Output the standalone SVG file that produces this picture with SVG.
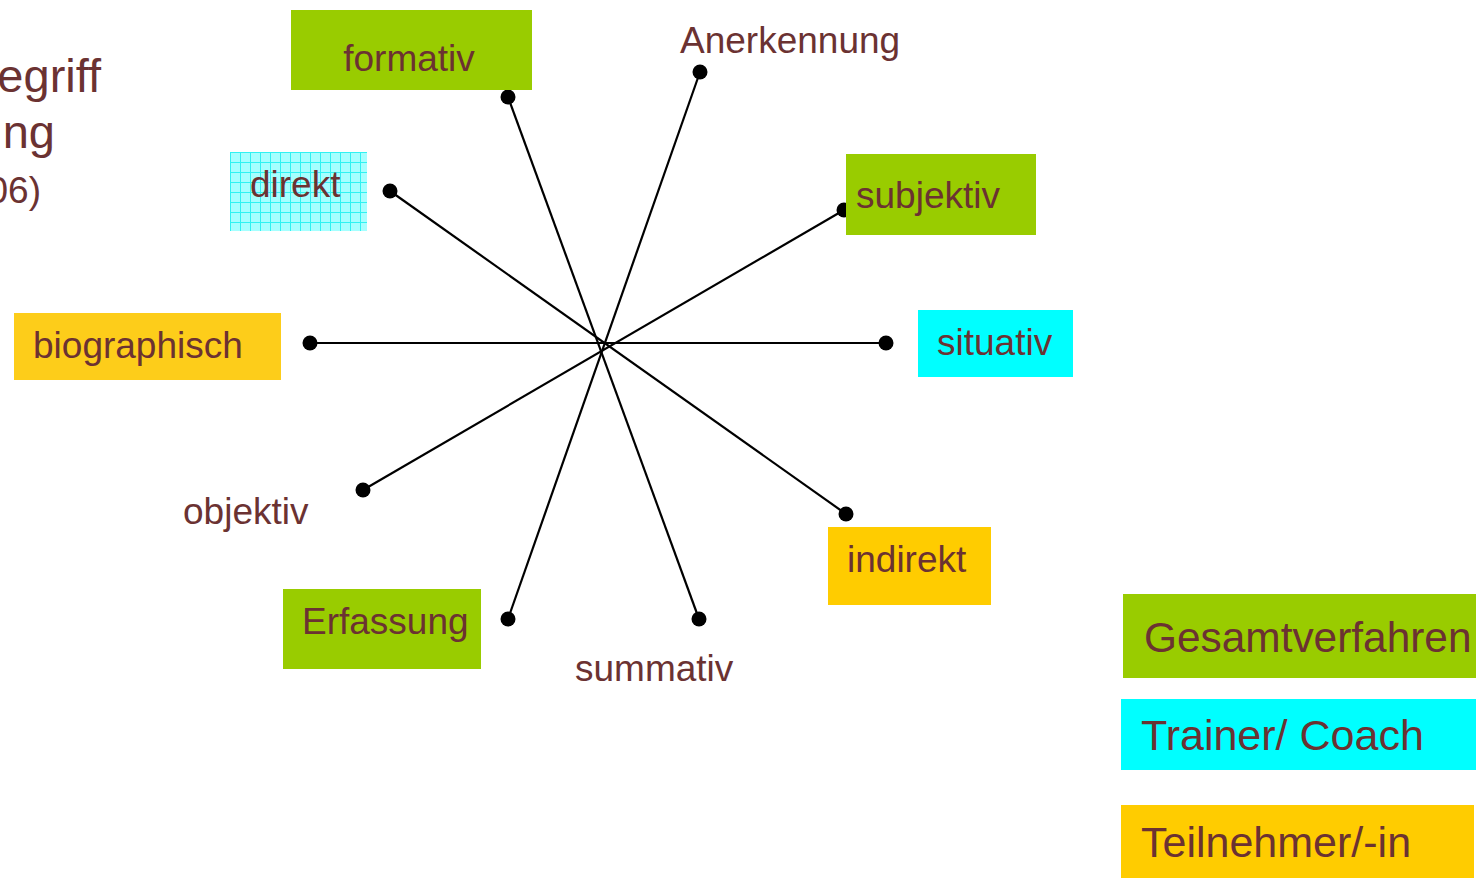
<svg xmlns="http://www.w3.org/2000/svg" width="1476" height="878" viewBox="0 0 1476 878">
<defs>
<style>
text{font-family:"Liberation Sans",Arial,sans-serif;fill:#6B3232;}
.t{font-size:37px;}
.big{font-size:43px;}
.ttl{font-size:47px;}
.green{fill:#99CC00;}
.cyan{fill:#00FFFF;}
.orange{fill:#FFCC00;}
.line{stroke:#000;stroke-width:2.2;fill:none;}
.dot{fill:#000;}
</style>
<pattern id="grid" width="10" height="10" patternUnits="userSpaceOnUse" x="230" y="152">
<rect width="10" height="10" fill="#A6FFFF"/>
<path d="M0 0.5H10M0.5 0V10" stroke="#30F2F2" stroke-width="1"/>
</pattern>
</defs>
<rect width="1476" height="878" fill="#fff"/>
<g id="title">
<text class="ttl" x="101" y="92" text-anchor="end">egriff</text>
<text class="ttl" x="55" y="148" text-anchor="end">ng</text>
<text class="t" x="41" y="203" text-anchor="end">06)</text>
</g>
<g id="connectors">
<line class="line" x1="508" y1="97" x2="699" y2="619"/>
<line class="line" x1="700" y1="72" x2="508" y2="619"/>
<line class="line" x1="390" y1="191" x2="846" y2="514"/>
<line class="line" x1="844" y1="210" x2="363" y2="490"/>
<line class="line" x1="310" y1="343" x2="886" y2="343"/>
<circle class="dot" cx="508" cy="97" r="7.5"/>
<circle class="dot" cx="699" cy="619" r="7.5"/>
<circle class="dot" cx="700" cy="72" r="7.5"/>
<circle class="dot" cx="508" cy="619" r="7.5"/>
<circle class="dot" cx="390" cy="191" r="7.5"/>
<circle class="dot" cx="846" cy="514" r="7.5"/>
<circle class="dot" cx="844" cy="210" r="7.5"/>
<circle class="dot" cx="363" cy="490" r="7.5"/>
<circle class="dot" cx="310" cy="343" r="7.5"/>
<circle class="dot" cx="886" cy="343" r="7.5"/>
</g>
<g id="formativ">
<rect class="green" x="291" y="10" width="241" height="80"/>
<text class="t" x="409" y="71" text-anchor="middle">formativ</text>
</g>
<g id="anerkennung">
<text class="t" x="680" y="53">Anerkennung</text>
</g>
<g id="direkt">
<rect x="230" y="152" width="137" height="79" fill="url(#grid)"/>
<text class="t" x="250" y="197">direkt</text>
</g>
<g id="subjektiv">
<rect class="green" x="846" y="154" width="190" height="81"/>
<text class="t" x="856" y="208">subjektiv</text>
</g>
<g id="biographisch">
<rect x="14" y="313" width="267" height="67" fill="#FDCD1A"/>
<text class="t" x="33" y="358">biographisch</text>
</g>
<g id="situativ">
<rect class="cyan" x="918" y="310" width="155" height="67"/>
<text class="t" x="937" y="355">situativ</text>
</g>
<g id="objektiv">
<text class="t" x="183" y="524">objektiv</text>
</g>
<g id="indirekt">
<rect class="orange" x="828" y="527" width="163" height="78"/>
<text class="t" x="847" y="572">indirekt</text>
</g>
<g id="erfassung">
<rect class="green" x="283" y="589" width="198" height="80"/>
<text class="t" x="302" y="634">Erfassung</text>
</g>
<g id="summativ">
<text class="t" x="575" y="681">summativ</text>
</g>
<g id="legend-gesamtverfahren">
<rect class="green" x="1123" y="594" width="353" height="84"/>
<text class="big" x="1144" y="652" style="font-size:42.4px">Gesamtverfahren</text>
</g>
<g id="legend-trainer">
<rect class="cyan" x="1121" y="699" width="355" height="71"/>
<text class="big" x="1141" y="750">Trainer/ Coach</text>
</g>
<g id="legend-teilnehmer">
<rect class="orange" x="1121" y="805" width="353" height="73"/>
<text class="big" x="1141" y="857">Teilnehmer/-in</text>
</g>
</svg>
